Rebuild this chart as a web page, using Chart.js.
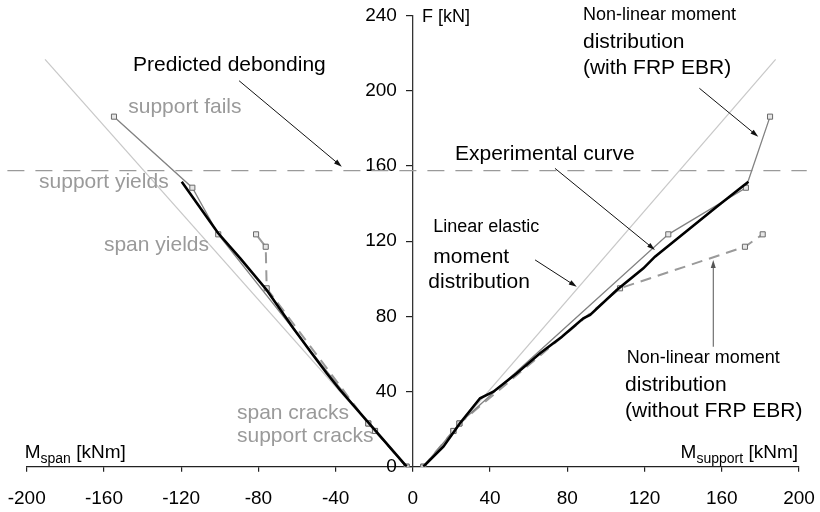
<!DOCTYPE html>
<html><head><meta charset="utf-8">
<script src="https://cdn.jsdelivr.net/npm/chart.js@4/dist/chart.umd.min.js"></script>
<style>html,body{margin:0;padding:0;background:#fff}#wrap{width:820px;height:512px;position:relative}</style>
</head><body><div id="wrap"><canvas id="c" width="820" height="512" style="width:820px;height:512px"></canvas></div>
<script>
// ---- tick values ----
const xMin = -200, xMax = 200, xStep = 40;
const yMin = 0, yMax = 240, yStep = 40;

// ---- Experimental curve ----
const expSpanM = [-3.2, -19.6, -37.7, -44.6, -52.4, -61.9, -75.7, -89.5, -100.9, -119.7];
const expSpanF = [0, 19.5, 40.8, 49.7, 60.3, 73.6, 94.0, 110.9, 124.3, 151.6];
const expSupM = [5.4, 15.8, 24.4, 34.8, 41.7, 53.8, 65.9, 77.2, 88.3, 91.8, 105.6, 119.4, 125.4, 129.7, 157.4, 173.8];
const expSupF = [0, 10.6, 23.1, 36.4, 39.9, 49.7, 60.3, 69.1, 78.9, 80.7, 94.0, 105.5, 111.7, 115.3, 138.3, 151.6];

// ---- Linear elastic moment distribution ----
const linSpanM = [-3.2, -190.5];
const linSpanF = [0, 216.7];
const linSupM = [5.4, 187.9];
const linSupF = [0, 216.7];

// ---- Non-linear moment distribution (with FRP EBR) ----
const frpSpanM = [-3.2, -19.6, -23.1, -100.8, -114.2, -154.8];
const frpSpanF = [0, 19, 23, 123.6, 148.4, 186.2];
const frpSupM = [5.4, 21.0, 24.1, 132.3, 172.5, 185.0];
const frpSupF = [0, 19, 23, 123.6, 148.4, 186.2];

// ---- Non-linear moment distribution (without FRP EBR) ----
const noSpanM = [-3.2, -19.6, -23.1, -75.7, -76.2, -81.2];
const noSpanF = [0, 19, 23, 94.9, 117.0, 123.6];
const noSupM = [5.4, 21.0, 24.1, 107.3, 172.0, 181.2];
const noSupF = [0, 19, 23, 94.9, 117.0, 123.6];

// ---- Predicted debonding load ----
const debondM = [-210, 204];
const debondF = [157.5, 157.5];

// ---- Annotation texts ----
const noteText = ["Predicted debonding", "support fails", "support yields", "span yields", "span cracks", "support cracks",
  "Non-linear moment", "distribution", "(with FRP EBR)", "Experimental curve", "Linear elastic", "moment", "distribution",
  "Non-linear moment", "distribution", "(without FRP EBR)", "F [kN]"];
const noteX = [-144.9, -147.4, -193.6, -160, -91.1, -91.1, 88.1, 88.1, 88.1, 21.8, 10.6, 10.6, 8.0, 110.8, 109.9, 109.9, 4.7];
const noteY = [213.7, 191, 151.3, 117.9, 28.4, 16, 240.3, 225.9, 212.1, 166.2, 127.7, 111.7, 98.4, 57.7, 43.5, 29.3, 239.2];
const noteSize = [21, 21, 21, 21, 21, 21, 18, 21, 21, 21, 18, 21, 21, 18, 21, 21, 18];
const noteGray = [false, true, true, true, true, true, false, false, false, false, false, false, false, false, false, false, false];

// ---- Arrows (from -> to, data units) ----
const arrFromX = [-90.0, 148.4, 73.6, 63.3, 155.6];
const arrFromY = [205.3, 201.3, 158.7, 110, 63.8];
const arrToX = [-36.8, 178.9, 125.4, 84.9, 155.6];
const arrToY = [159.6, 175.5, 115.3, 95.7, 110];
const arrColor = ['#111', '#111', '#111', '#111', '#555'];

const zip = (xs, ys) => xs.map((v, i) => ({x: v, y: ys[i]}));
const FONT = '"Liberation Sans", Arial, Helvetica, sans-serif';

const annPlugin = {
  id: 'ann',
  afterDatasetsDraw(chart) {
    const {ctx, scales: {x, y}, chartArea} = chart;
    ctx.save();
    // arrows
    ctx.lineWidth = 1;
    for (let i = 0; i < arrFromX.length; i++) {
      ctx.strokeStyle = arrColor[i]; ctx.fillStyle = arrColor[i];
      const x1 = x.getPixelForValue(arrFromX[i]), y1 = y.getPixelForValue(arrFromY[i]);
      const x2 = x.getPixelForValue(arrToX[i]), y2 = y.getPixelForValue(arrToY[i]);
      const a = Math.atan2(y2 - y1, x2 - x1);
      ctx.beginPath(); ctx.moveTo(x1, y1); ctx.lineTo(x2 - 6 * Math.cos(a), y2 - 6 * Math.sin(a)); ctx.stroke();
      ctx.beginPath(); ctx.moveTo(x2, y2);
      ctx.lineTo(x2 - 8 * Math.cos(a) + 2.5 * Math.sin(a), y2 - 8 * Math.sin(a) - 2.5 * Math.cos(a));
      ctx.lineTo(x2 - 8 * Math.cos(a) - 2.5 * Math.sin(a), y2 - 8 * Math.sin(a) + 2.5 * Math.cos(a));
      ctx.closePath(); ctx.fill();
    }
    // texts
    ctx.textBaseline = 'middle'; ctx.textAlign = 'left';
    for (let i = 0; i < noteText.length; i++) {
      ctx.font = noteSize[i] + 'px ' + FONT;
      ctx.fillStyle = noteGray[i] ? '#9a9a9a' : '#000';
      ctx.fillText(noteText[i], x.getPixelForValue(noteX[i]), y.getPixelForValue(noteY[i]));
    }
    // axis titles with subscripts
    const base = chartArea.bottom - 8.4;
    ctx.textBaseline = 'alphabetic'; ctx.fillStyle = '#000';
    function title(sub, px, alignRight) {
      ctx.font = '19px ' + FONT; const wM = ctx.measureText('M').width; const wU = ctx.measureText(' [kNm]').width;
      ctx.font = '14px ' + FONT; const wS = ctx.measureText(sub).width;
      let sx = alignRight ? px - (wM + wS + wU) : px;
      ctx.font = '19px ' + FONT; ctx.fillText('M', sx, base);
      ctx.font = '14px ' + FONT; ctx.fillText(sub, sx + wM, base + 5);
      ctx.font = '19px ' + FONT; ctx.fillText(' [kNm]', sx + wM + wS, base);
    }
    title('span', chartArea.left - 2, false);
    title('support', chartArea.right - 1, true);
    ctx.restore();
  }
};

const sq = {pointStyle: 'rect', pointRadius: 3.6, pointBorderWidth: 1, pointBorderColor: '#6a6a6a', pointBackgroundColor: '#e6e6e6', pointHoverRadius: 3.6};

new Chart(document.getElementById('c'), {
  type: 'scatter',
  data: {
    datasets: [
      {data: zip(expSpanM, expSpanF), showLine: true, borderColor: '#000', borderWidth: 2.6, pointRadius: 0, order: 0},
      {data: zip(expSupM, expSupF), showLine: true, borderColor: '#000', borderWidth: 2.6, pointRadius: 0, order: 0},
      Object.assign({data: zip(frpSpanM, frpSpanF), showLine: true, borderColor: '#828282', borderWidth: 1.3, order: 1}, sq),
      Object.assign({data: zip(frpSupM, frpSupF), showLine: true, borderColor: '#828282', borderWidth: 1.3, order: 1}, sq),
      Object.assign({data: zip(noSpanM, noSpanF), showLine: true, borderColor: '#9a9a9a', borderWidth: 2, borderDash: [11, 7], order: 2}, sq),
      Object.assign({data: zip(noSupM, noSupF), showLine: true, borderColor: '#9a9a9a', borderWidth: 2, borderDash: [11, 7], order: 2}, sq),
      {data: zip(linSpanM, linSpanF), showLine: true, borderColor: '#c8c8c8', borderWidth: 1.2, pointRadius: 0, order: 3},
      {data: zip(linSupM, linSupF), showLine: true, borderColor: '#c8c8c8', borderWidth: 1.2, pointRadius: 0, order: 3},
      {data: zip(debondM, debondF), showLine: true, borderColor: '#9a9a9a', borderWidth: 1.3, borderDash: [17, 11], pointRadius: 0, clip: false, order: 4}
    ]
  },
  options: {
    responsive: false, maintainAspectRatio: false, animation: false,
    devicePixelRatio: 1,
    layout: {padding: 0},
    plugins: {legend: {display: false}, tooltip: {enabled: false}},
    scales: {
      x: {
        type: 'linear', position: 'bottom', min: xMin, max: xMax,
        afterFit(s) { s.height = 45.3; s.paddingLeft = 26.7; s.paddingRight = 21; },
        ticks: {stepSize: xStep, autoSkip: false, color: '#000', font: {family: FONT, size: 19}, padding: 16, maxRotation: 0},
        grid: {drawOnChartArea: false, drawTicks: true, tickLength: 5, color: '#222', lineWidth: 1.2},
        border: {display: true, color: '#222', width: 1.3}
      },
      y: {
        type: 'linear', position: 'center', min: yMin, max: yMax,
        afterFit(s) { s.paddingTop = 15.5; s.paddingBottom = 0; },
        ticks: {stepSize: yStep, autoSkip: false, color: '#000', font: {family: FONT, size: 19}, padding: 10},
        grid: {drawOnChartArea: false, drawTicks: true, tickLength: 6, color: '#222', lineWidth: 1.2},
        border: {display: true, color: '#333', width: 1.3}
      }
    }
  },
  plugins: [annPlugin]
});
</script></body></html>
